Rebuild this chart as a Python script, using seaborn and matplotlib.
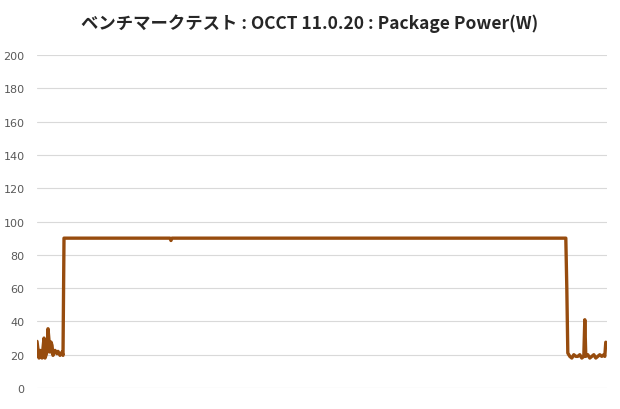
import pandas as pd
import seaborn as sns
import matplotlib.pyplot as plt

# muestras (segundos) y potencia del paquete (W)
tiempo = [0, 2, 3, 5, 7, 8, 10, 11, 13, 14, 15, 16, 18, 20, 21, 23, 25, 26, 27,
          133, 134, 135, 529, 530, 531,
          533, 535, 537, 539, 541, 543, 545, 547, 548, 549, 551, 553, 555, 557,
          559, 561, 563, 565, 567, 568, 569]
potencia = [28, 18, 22.6, 18, 30, 18, 21.6, 35.6, 21.6, 27.6, 25.6, 19.6, 22.6, 20.6, 22, 19.6, 21.6, 19.6, 90,
            90, 88.6, 90, 90, 60, 21,
            19, 18, 20, 19, 19, 20, 18, 19, 41, 19, 20, 18, 19, 20,
            18, 19, 20, 19, 20, 19, 27.5]
ticks_y = [0, 20, 40, 60, 80, 100, 120, 140, 160, 180, 200]

df = pd.DataFrame({'t': tiempo, 'w': potencia})

sns.set_style("white")
plt.rcParams['font.family'] = ['Noto Sans CJK JP', 'DejaVu Sans']

fig = plt.figure(figsize=(6.2, 4.1), dpi=100)
ax = fig.add_axes([0.0597, 0.0512, 0.919, 0.8122])
sns.lineplot(data=df, x='t', y='w', color='#974C0E', linewidth=2.4, ax=ax)

ax.set_xlim(0, 570)
ax.set_ylim(0, 200)
ax.set_yticks(ticks_y)
ax.set_xticks([])
ax.grid(axis='y', color='#d9d9d9', linewidth=0.8)
ax.set_axisbelow(True)
for s in ax.spines.values():
    s.set_visible(False)
ax.tick_params(axis='y', length=0, labelsize=8, labelcolor='#595959', pad=9)
for lab in ax.get_yticklabels():
    lab.set_family('DejaVu Sans')
ax.set_xlabel('')
ax.set_ylabel('')
fig.suptitle('ベンチマークテスト : OCCT 11.0.20 : Package Power(W)',
             fontsize=12.5, fontweight='bold', y=0.965)

fig.savefig('out.png', dpi=100)
